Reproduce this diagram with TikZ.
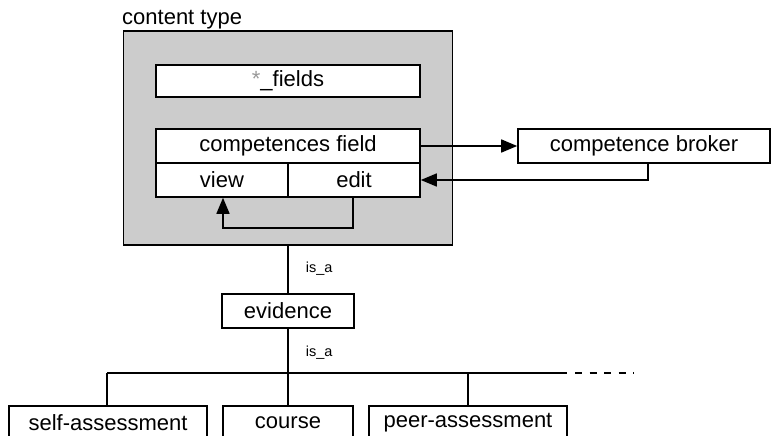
\documentclass[tikz,border=0pt]{standalone}
\usepackage{fontspec}
\setmainfont{Liberation Sans}
\usetikzlibrary{arrows.meta}
\definecolor{panelgray}{gray}{0.8}
\definecolor{stargray}{gray}{0.6}
\tikzset{
  box/.style={draw, line width=1.6pt, fill=white, inner sep=0pt,
    font=\fontsize{22}{26}\selectfont},
  panel/.style={draw, line width=1.6pt, fill=panelgray, inner sep=0pt},
  link/.style={line width=1.6pt},
  arrowlink/.style={line width=1.6pt, -{Triangle[length=16pt,width=13pt]}},
  rel/.style={font=\fontsize{14.5}{16}\selectfont, inner sep=0pt},
}
\begin{document}
\begin{tikzpicture}[x=1pt, y=-1pt]
  \clip (0,0) rectangle (771,436);
  \useasboundingbox (0,0) rectangle (771,436);

  % container for the content type
  \node[panel, minimum width=329pt, minimum height=214pt] (ctype) at (288,138) {};
  \node[anchor=base west, inner sep=0pt, font=\fontsize{22}{26}\selectfont] (ctlabel) at (122,25) {content type};

  % fields inside the content type
  \node[box, minimum width=264pt, minimum height=32pt] (fields) at (288,81)
    {{\color{stargray}*}\_fields};
  \node[box, minimum width=264pt, minimum height=34pt] (cfield) at (288,146) {competences field};
  \node[box, minimum width=132pt, minimum height=34pt] (view) at (222,180) {view};
  \node[box, minimum width=132pt, minimum height=34pt] (edit) at (354,180) {edit};

  % external broker
  \node[box, minimum width=252pt, minimum height=34pt] (broker) at (644,146) {competence broker};

  % hierarchy
  \node[box, minimum width=132pt, minimum height=34pt] (evidence) at (288,311) {evidence};
  \node[box, minimum width=198pt, minimum height=34pt] (self) at (108,423) {self-assessment};
  \node[box, minimum width=130pt, minimum height=34pt] (course) at (288,423) {course};
  \node[box, minimum width=198pt, minimum height=34pt] (peer) at (468,423) {peer-assessment};

  \coordinate (barL) at (107,373);
  \coordinate (barM) at (288,373);
  \coordinate (barR) at (567,373);
  \coordinate (barP) at (468,373);
  \coordinate (dashS) at (575,373);
  \coordinate (dashE) at (634,373);
  \coordinate (loop) at (353,228);
  \coordinate (ret) at (648,163);

  % field <-> broker
  \draw[arrowlink] (cfield.east) -- (broker.west);
  \draw[arrowlink] (ret) |- (edit.east);

  % edit -> view
  \draw[arrowlink] (edit.south -| loop) -- (loop) -| ([xshift=1pt]view.south);

  % is_a links
  \draw[link] (ctype.south) -- node[rel, pos=0.48, right=17pt] (isa1) {is\_a} (evidence.north);
  \draw[link] (evidence.south) -- node[rel, pos=0.55, right=17pt] (isa2) {is\_a} (barM);
  \draw[link] (barL) -- (barR);
  \draw[link, dash pattern=on 7pt off 7.5pt] (dashS) -- (dashE);
  \draw[link] (barL) -- (barL |- self.north);
  \draw[link] (barM) -- (barM |- course.north);
  \draw[link] (barP) -- (barP |- peer.north);
\end{tikzpicture}
\end{document}
